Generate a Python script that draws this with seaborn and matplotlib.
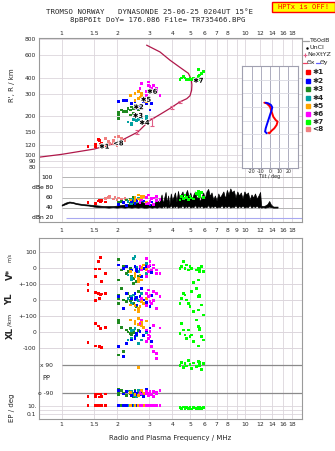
import numpy as np
import pandas as pd
import matplotlib
matplotlib.use("Agg")
import matplotlib.pyplot as plt
import seaborn as sns
from matplotlib.ticker import NullLocator
from matplotlib.patches import Rectangle
from matplotlib.lines import Line2D
import matplotlib.patheffects as pe

sns.set_theme(style="white")
plt.rcParams['font.family'] = ['DejaVu Sans']

# ------------------------------------------------------------------ data
freq_ticks = [1, 1.5, 2, 3, 4, 5, 6, 7, 8, 10, 12, 14, 16, 18]
freq_ticks_mid = [1, 1.5, 2, 3, 4, 5, 6, 7, 8, 9, 10, 12, 14, 16, 18]
height_ticks = [80, 90, 100, 120, 150, 200, 300, 400, 600, 800]
dbe_ticks = [100, 80, 60, 40, 20]
dbe_labels = ["100", "dBe 80", "60", "40", "dBn 20"]

# model profile trace (MHz, km)
trace_f = [0.755, 1.0, 1.5, 2.0, 2.6, 3.0, 3.43, 3.89, 4.41, 4.8, 5.0, 5.1, 5.12, 5.08, 4.9, 4.41, 3.89, 3.43, 2.9]
trace_h = [96, 101, 111, 124.5, 151, 185, 207, 231, 260, 275, 290, 320, 352, 390, 434, 483, 550, 638, 721]

# NeXtYZ markers
nx_f = [2.58, 3.1, 4.0, 4.4]
nx_h = [151, 181, 235, 260]
nx_err = [6, 14, 8, 6]

# echoes: frequency, virtual height, amplitude, V*, YL, XL, PP, EP
e1_f = [1.39, 1.53, 1.53, 1.58, 1.60, 1.62, 1.65, 1.74]
e1_h = [117, 121, 116, 132, 130, 121, 124, 118]
e1_amp = [50, 47, 49, 53, 55, 52, 54, 51]
e1_v = [-104, -6, -55, 43, -6, 66, -87, -34]
e1_yl = [58, 48, -2, 42, 10, 31, 38, 42]
e1_xl = [-68, 55, -89, 38, -94, 23, -98, 30]
e1_pp = [-112, -95, -112, -95, -114, -95, -112, -95]
e1_ep = [12, 11, 12, 11, 12, 11, 12, 11]

e2_f = [2.03, 2.17, 2.26, 2.41, 2.51, 2.56, 2.67, 2.73, 2.78, 2.91, 3.09, 3.03, 2.51, 2.56]
e2_h = [261, 266, 266, 253, 261, 245, 237, 284, 261, 253, 253, 224, 237, 231]
e2_amp = [46, 50, 44, 52, 48, 55, 50, 58, 53, 47, 51, 45, 49, 54]
e2_v = [19, -2, 9, -13, 9, -23, -2, -55, -2, 9, -30, 15, -40, -10]
e2_yl = [21, -52, 42, 10, 42, -31, 21, 73, 0, -15, 30, -40, 5, 15]
e2_xl = [-94, -157, -72, -51, -30, -9, 2, 45, -20, 10, -60, 25, -40, -15]
e2_pp = [-70, -95, -80, -105, -75, -90, -100, -85, -110, -65, -95, -80, -90, -100]
e2_ep = [11, 12, 11, 12, 11, 12, 11, 12, 11, 12, 11, 12, 11, 12]

e3_f = [2.03, 2.03, 2.03, 2.12, 2.17, 2.26, 2.30, 2.36, 2.41, 2.46, 2.51, 2.56, 2.61, 2.46, 2.36]
e3_h = [205, 193, 216, 224, 219, 219, 231, 224, 237, 231, 245, 231, 224, 211, 205]
e3_amp = [47, 50, 45, 52, 49, 55, 51, 57, 53, 60, 56, 54, 58, 50, 48]
e3_v = [55, 19, -77, -13, 13, -34, -23, -2, -55, -66, -45, -87, -51, -98, -13]
e3_yl = [31, 10, -21, 73, 0, -10, 42, 21, 0, -21, 10, -42, 52, 31, -5]
e3_xl = [77, 60, -147, 30, -126, 13, 0, -9, -19, 5, -30, -13, 8, -3, 20]
e3_pp = [-65, -80, -100, -70, -90, -105, -75, -95, -85, -110, -70, -100, -80, -90, -75]
e3_ep = [11, 12, 11, 12, 11, 12, 11, 12, 11, 12, 11, 12, 11, 12, 11]

e4_f = [2.30, 2.41, 2.46, 2.51, 2.61, 2.73, 2.91, 2.41, 2.56, 2.91]
e4_h = [181, 171, 190, 193, 190, 197, 199, 177, 185, 193]
e4_amp = [52, 48, 55, 50, 58, 53, 49, 56, 51, 47]
e4_v = [-45, -77, 62, 72, -23, -10, 30, -60, 5, -35]
e4_yl = [10, -21, 31, 15, -5, 40, -30, 20, 0, -15]
e4_xl = [-51, -40, 13, 23, -72, -51, -5, 8, -20, 2]
e4_pp = [-75, -95, -105, -85, -70, -100, -90, -80, -110, -88]
e4_ep = [11, 12, 11, 12, 11, 12, 11, 12, 11, 12]

e5_f = [2.36, 2.51, 2.61, 2.67, 2.73, 2.78, 2.91, 2.61, 2.73, 2.51]
e5_h = [293, 302, 312, 284, 293, 276, 261, 276, 302, 267]
e5_amp = [55, 60, 65, 52, 58, 62, 50, 57, 63, 54]
e5_v = [-23, -55, -87, -45, -77, 19, -10, -65, 5, -35]
e5_yl = [-31, -62, -73, -42, 0, -20, 10, -55, -10, -35]
e5_xl = [77, 55, 87, 45, 60, 30, 70, 50, 40, 65]
e5_pp = [-85, -100, 75, -95, -75, -90, -80, -105, -70, -95]
e5_ep = [12, 11, 12, 11, 12, 11, 12, 11, 12, 11]

e6_f = [2.67, 2.73, 2.91, 2.97, 2.97, 3.03, 3.09, 3.15, 3.29, 3.29, 3.43, 2.91, 3.03, 3.15]
e6_h = [331, 362, 312, 372, 351, 341, 331, 320, 331, 312, 293, 293, 320, 351]
e6_amp = [50, 55, 60, 48, 65, 52, 58, 46, 62, 54, 56, 47, 53, 59]
e6_v = [9, -13, 62, 9, -23, 19, -13, 19, -13, -34, -34, -55, 40, 0]
e6_yl = [0, 10, 42, 63, 21, -10, -21, 52, 42, -52, 20, -35, 30, -5]
e6_xl = [55, 77, 13, -19, -40, -30, -94, -126, -136, -168, 25, -60, 5, 40]
e6_pp = [-85, -95, -75, -105, -90, -80, -100, -110, -85, -95, -70, -90, -100, -80]
e6_ep = [12, 11, 12, 11, 12, 11, 12, 11, 12, 11, 12, 11, 12, 11]

e7_f = [4.41, 4.51, 4.60, 4.70, 4.80, 4.90, 5.00, 5.11, 5.21, 5.44, 5.54, 5.66, 5.78, 5.90, 5.54, 5.66]
e7_h = [389, 399, 409, 399, 389, 389, 399, 389, 399, 381, 409, 421, 434, 448, 462, 389]
e7_amp = [55, 62, 58, 65, 60, 56, 63, 59, 57, 68, 72, 65, 70, 60, 66, 62]
e7_v = [-2, 9, 40, -2, 19, -13, 9, -2, -94, -13, -2, -23, 9, -23, -77, -2]
e7_yl = [-21, 10, 42, 31, 0, -21, -42, 52, -73, 73, 21, 31, -31, -94, -62, 21]
e7_xl = [-9, 55, 13, -19, -40, 13, -30, -19, -62, 77, 34, 23, -30, -51, -89, 13]
e7_pp = [90, 110, 75, 100, 85, 120, 95, 70, 105, 80, 115, 90, 65, 100, 85, 110]
e7_ep = [5, 3, 6, 2.5, 4, 3, 5, 2, 4, 3, 6, 4, 3, 5, 2.5, 4]

e8_f = [1.74, 1.79, 1.83, 1.91, 1.95, 2.03, 2.12, 2.21, 2.00, 1.91]
e8_h = [134, 128, 123, 130, 138, 140, 134, 130, 119, 123]
e8_amp = [58, 60, 62, 57, 61, 59, 56, 58, 55, 57]

# echo labels in ionogram (text, f, h)
lab_txt = ["\u27311", "<8", "\u27313", "\u27314", "\u27312", "\u27315", "\u27316", "\u27317"]
lab_f = [1.60, 1.91, 2.44, 2.65, 2.46, 2.70, 2.92, 5.21]
lab_h = [116, 123, 202, 178, 236, 270, 312, 380]

# noise (T60dB) envelope in dBe panel
nz_f = [1.00, 1.05, 1.10, 1.15, 1.20, 1.30, 1.40, 1.50, 1.60, 1.70, 1.80, 1.90, 2.00, 2.10, 2.20, 2.30,
        2.40, 2.50, 2.60, 2.70, 2.80, 2.90, 3.00, 3.10, 3.20, 3.30, 3.40,
        3.50, 3.56, 3.62, 3.68, 3.74, 3.80, 3.86, 3.93, 4.00, 4.07, 4.14, 4.22, 4.30, 4.38, 4.46, 4.55,
        4.64, 4.73, 4.82, 4.92, 5.02, 5.12, 5.22, 5.33, 5.44, 5.55, 5.66, 5.78, 5.90, 6.02, 6.15, 6.28,
        6.41, 6.55, 6.69, 6.83, 6.98, 7.13, 7.28, 7.44, 7.60, 7.77, 7.94, 8.11, 8.29, 8.47, 8.66, 8.85,
        9.05, 9.25, 9.46, 9.67, 9.89, 10.11, 10.34, 10.57, 10.81, 11.05, 11.30, 11.55, 11.81, 12.05,
        12.2, 12.5, 12.8, 13.2, 13.5, 13.8, 14.2, 14.6, 15.0]
nz_lo = [44, 47, 50, 49, 47, 45, 44, 42, 41, 41, 40, 41, 40, 41, 40, 41,
         40, 41, 40, 41, 40, 40, 41, 40, 41, 40, 42,
         40, 43, 41, 44, 40, 42, 41, 45, 40, 43, 41, 44, 40, 42, 41, 45,
         40, 43, 41, 44, 40, 42, 41, 45, 40, 43, 41, 44, 40, 42, 41, 45,
         40, 43, 41, 44, 40, 42, 41, 45, 40, 43, 41, 44, 40, 42, 41, 45,
         40, 43, 41, 44, 40, 42, 41, 45, 40, 43, 41, 44, 40, 42,
         40, 41, 40, 41, 42, 41, 40, 40, 40]
nz_hi = [46, 50, 52, 51, 49, 47, 46, 45, 44, 43, 43, 43, 44, 45, 46, 47,
         49, 48, 50, 52, 50, 48, 46, 47, 49, 55, 50,
         66, 48, 60, 71, 50, 64, 46, 68, 55, 62, 70, 52, 73, 58, 66, 72,
         54, 68, 75, 60, 70, 56, 66, 72, 58, 64, 52, 62, 70, 58, 72, 77,
         63, 70, 56, 64, 54, 68, 60, 66, 72, 58, 75, 66, 78, 70, 74, 60,
         72, 64, 70, 58, 72, 66, 70, 56, 66, 60, 68, 58, 64, 71,
         44, 43, 44, 47, 53, 46, 42, 42, 42]

# tilt inset (deg vs relative height)
tx_x = [-6.2, -3.6, -1.8, 0, 1.8, 3.6, 6.2, 8.3, 7.2, 4.7, 1.8, -0.7, -1.8]
tx_y = [4.31, 4.26, 4.14, 4.02, 3.65, 3.28, 3.04, 2.92, 2.67, 2.43, 2.26, 2.07, 2.11]
ty_x = [-4.7, -1.8, 1.1, 2.5, 1.8, 0, -1.8, -3.6, -4.7, -5.4, -3.6]
ty_y = [4.31, 4.26, 4.14, 3.97, 3.77, 3.41, 3.04, 2.67, 2.43, 2.19, 2.07]
tilt_ticks = [-20, -10, 0, 10, 20]

# ------------------------------------------------------------------ frames
palette = {'1': '#ff0000', '2': '#0000ff', '3': '#208a20', '4': '#00a0a0',
           '5': '#ffa500', '6': '#ff00ff', '7': '#00ff00', '8': '#f08080'}
GRID = '#dcd6dc'
SP = '#9a9a9a'
XLIM = (0.755, 20.3)

W, H = 335, 451
fig = plt.figure(figsize=(W / 100, H / 100), dpi=100)
fig.patch.set_facecolor('white')


def fx(x):
    return x / W


def fy(y):
    return 1 - y / H


L, R = 39.3, 301.7
ax_ion = fig.add_axes([fx(L), fy(172), (R - L) / W, (172 - 38) / H])
ax_dbe = fig.add_axes([fx(L), fy(222.3), (R - L) / W, (222.3 - 172) / H])
ax_low = fig.add_axes([fx(L), fy(419), (R - L) / W, (419 - 238.3) / H])
ax_in = fig.add_axes([fx(241.7), fy(168.3), (298.3 - 241.7) / W, (168.3 - 66) / H])

for ax in (ax_ion, ax_dbe, ax_low):
    ax.set_xscale('log')
    ax.set_xlim(XLIM)
    ax.set_facecolor('white')
    for s in ax.spines.values():
        s.set_color(SP)
        s.set_linewidth(0.8)
    for f in freq_ticks_mid:
        ax.axvline(f, color=GRID, lw=0.6, zorder=0)

ax_ion.spines['bottom'].set_visible(False)
ax_dbe.spines['top'].set_visible(False)


def fmt(v):
    return ('%g' % v)


# ------------------------------------------------------------------ ionogram
ax_ion.set_yscale('log')
ax_ion.set_ylim(73.5, 820)
for hh in height_ticks:
    ax_ion.axhline(hh, color=GRID, lw=0.6, zorder=0)
ax_ion.set_yticks(height_ticks)
ax_ion.set_yticklabels([fmt(v) for v in height_ticks])
ax_ion.yaxis.set_minor_locator(NullLocator())
ax_ion.set_xticks(freq_ticks)
ax_ion.set_xticklabels([fmt(v) for v in freq_ticks])
ax_ion.xaxis.set_minor_locator(NullLocator())
ax_ion.xaxis.tick_top()
ax_ion.tick_params(axis='x', length=0, labelsize=4.3, pad=1.6)
ax_ion.tick_params(axis='y', length=0, labelsize=4.3, pad=2.3)

sns.lineplot(x=trace_f, y=trace_h, sort=False, estimator=None, color='#b0184a', lw=0.9, ax=ax_ion)
ax_ion.errorbar(nx_f, nx_h, yerr=nx_err, fmt='none', ecolor='#e06088', elinewidth=0.8, capsize=1.3, capthick=0.8)

echo_sets = [('8', e8_f, e8_h, e8_amp), ('1', e1_f, e1_h, e1_amp), ('3', e3_f, e3_h, e3_amp),
             ('4', e4_f, e4_h, e4_amp), ('2', e2_f, e2_h, e2_amp), ('5', e5_f, e5_h, e5_amp),
             ('6', e6_f, e6_h, e6_amp), ('7', e7_f, e7_h, e7_amp)]
top_df = pd.concat([pd.DataFrame({'echo': k, 'f': f, 'h': h, 'amp': a}) for k, f, h, a in echo_sets],
                   ignore_index=True)
sns.scatterplot(data=top_df, x='f', y='h', hue='echo', palette=palette, marker='s', s=4,
                linewidth=0, legend=False, ax=ax_ion, zorder=3)
for t, f, h in zip(lab_txt, lab_f, lab_h):
    ax_ion.text(f, h, t, fontsize=4.8, fontweight='bold', color='black', ha='left', va='center',
                zorder=5, path_effects=[pe.withStroke(linewidth=1.1, foreground='white')])
ax_ion.set_xlabel('')
ax_ion.set_ylabel('')

# ------------------------------------------------------------------ dBe panel
ax_dbe.set_ylim(10.9, 110.5)
ax_dbe.hlines([100, 80, 60, 40], 1.0, XLIM[1], color='#b4b4b4', lw=0.7, zorder=0)
ax_dbe.hlines([20], 1.05, XLIM[1], color='#a8a8f0', lw=0.8, zorder=0)
ax_dbe.fill_between(nz_f, nz_lo, nz_hi, color='black', lw=0.5, edgecolor='black', zorder=2)
sns.scatterplot(data=top_df, x='f', y='amp', hue='echo', palette=palette, marker='s', s=4,
                linewidth=0, legend=False, ax=ax_dbe, zorder=3)
ax_dbe.set_yticks([])
for v, lab in zip(dbe_ticks, dbe_labels):
    ax_dbe.text(0.052, v, lab, transform=ax_dbe.get_yaxis_transform(), ha='right', va='center',
                fontsize=4.3, color='black')
ax_dbe.set_xticks(freq_ticks_mid)
ax_dbe.set_xticklabels([fmt(v) for v in freq_ticks_mid])
ax_dbe.xaxis.set_minor_locator(NullLocator())
ax_dbe.tick_params(axis='x', length=0, labelsize=4.3, pad=4.2)
ax_dbe.set_xlabel('')
ax_dbe.set_ylabel('')

# ------------------------------------------------------------------ lower panel


def vrow(v):
    return 29.7 - 0.157 * np.asarray(v, float)


def ylrow(v):
    return 61.7 - 0.16 * np.asarray(v, float)


def xlrow(v):
    return 93.7 - 0.157 * np.asarray(v, float)


def pprow(v):
    return 141.0 - 0.1556 * np.asarray(v, float)


def eprow(v):
    return 167.7 + (1 - np.log10(np.asarray(v, float))) * 4.15


low_sets = [('1', e1_f, e1_v, e1_yl, e1_xl, e1_pp, e1_ep), ('3', e3_f, e3_v, e3_yl, e3_xl, e3_pp, e3_ep),
            ('4', e4_f, e4_v, e4_yl, e4_xl, e4_pp, e4_ep), ('2', e2_f, e2_v, e2_yl, e2_xl, e2_pp, e2_ep),
            ('5', e5_f, e5_v, e5_yl, e5_xl, e5_pp, e5_ep), ('6', e6_f, e6_v, e6_yl, e6_xl, e6_pp, e6_ep),
            ('7', e7_f, e7_v, e7_yl, e7_xl, e7_pp, e7_ep)]
frames = []
for k, f, v, yl, xl, pp, ep in low_sets:
    for conv, vals in ((vrow, v), (ylrow, yl), (xlrow, xl), (pprow, pp), (eprow, ep)):
        frames.append(pd.DataFrame({'echo': k, 'f': f, 'row': conv(vals)}))
low_df = pd.concat(frames, ignore_index=True)

ax_low.set_ylim(180.7, 0)
lt_pos = [float(vrow(100)), float(vrow(0)), float(ylrow(100)), float(ylrow(0)), float(xlrow(100)),
          float(xlrow(0)), float(xlrow(-100)), float(eprow(10)), float(eprow(0.1))]
lt_lab = ["100", "0", "+-100", "0", "+-100", "0", "-100", "10.", "0.1"]
ax_low.hlines(lt_pos[:7], XLIM[0], XLIM[1], color=GRID, lw=0.7, zorder=0)
ax_low.hlines([float(eprow(10)), float(eprow(1)), float(eprow(0.1))], XLIM[0], XLIM[1], color=GRID, lw=0.6, zorder=0)
ax_low.hlines([float(pprow(90)), float(pprow(-90))], 1.0, XLIM[1], color='#8a8a8a', lw=0.9, zorder=1)
ax_low.set_yticks(lt_pos)
ax_low.set_yticklabels(lt_lab)
ax_low.tick_params(axis='y', length=0, labelsize=4.3, pad=2.0)
ax_low.text(0.052, float(pprow(90)), "x 90", transform=ax_low.get_yaxis_transform(), ha='right', va='center', fontsize=4.3)
ax_low.text(0.052, float(pprow(-90)), "o -90", transform=ax_low.get_yaxis_transform(), ha='right', va='center', fontsize=4.3)
ax_low.text(0.01, float(pprow(0)) - 1.5, "PP", transform=ax_low.get_yaxis_transform(), ha='left', va='center', fontsize=4.8)
sns.scatterplot(data=low_df, x='f', y='row', hue='echo', palette=palette, marker='s', s=4,
                linewidth=0, legend=False, ax=ax_low, zorder=3)
ax_low.set_xticks(freq_ticks)
ax_low.set_xticklabels([fmt(v) for v in freq_ticks])
ax_low.xaxis.set_minor_locator(NullLocator())
ax_low.tick_params(axis='x', length=0, labelsize=4.3, pad=2.0)
ax_low.set_xlabel('')
ax_low.set_ylabel('')

# ------------------------------------------------------------------ tilt inset
ax_in.set_facecolor('white')
ax_in.set_xlim(-31, 31)
ax_in.set_ylim(-0.5, 7.0)
for s in ax_in.spines.values():
    s.set_color('#a0a0b0')
    s.set_linewidth(0.8)
for t in tilt_ticks:
    ax_in.axvline(t, color='#a0a0b4', lw=0.6, zorder=0)
for yy in range(7):
    ax_in.axhline(yy, color='#d8d8e0', lw=0.6, zorder=0)
sns.lineplot(x=tx_x, y=tx_y, sort=False, estimator=None, color='#ff0000', lw=1.4, ax=ax_in)
sns.lineplot(x=ty_x, y=ty_y, sort=False, estimator=None, color='#0000ff', lw=1.4, ax=ax_in)
ax_in.set_xticks(tilt_ticks)
ax_in.set_xticklabels([str(t) for t in tilt_ticks])
ax_in.set_yticks([])
ax_in.tick_params(axis='x', length=0, labelsize=3.4, pad=0.6)
ax_in.set_xlabel('Tilt / deg', fontsize=3.4, labelpad=0.2)
ax_in.set_ylabel('')

# ------------------------------------------------------------------ figure texts
mono = 'DejaVu Sans Mono'
fig.text(fx(150), fy(11.6), "TROMSO NORWAY   DYNASONDE 25-06-25 0204UT 15\u00b0E", ha='center', va='center',
         fontsize=5.3, family=mono)
fig.text(fx(157.5), fy(20.3), "8pBP6It DoY= 176.086 File= TR735466.BPG", ha='center', va='center',
         fontsize=5.3, family=mono)
fig.patches.append(Rectangle((fx(271.7), fy(12.3)), (334.5 - 271.7) / W, 10.6 / H, transform=fig.transFigure,
                             facecolor='#ffff00', edgecolor='#ff0000', lw=1.0))
fig.text(fx(303.0), fy(7.0), "HPTx is OFF!", ha='center', va='center', fontsize=5.1, family=mono, color='#ff0000')

fig.text(fx(12), fy(85), "R', R / km", rotation=90, ha='center', va='center', fontsize=5)
fig.text(fx(10), fy(274), "V*", rotation=90, ha='center', va='center', fontsize=6.2, fontweight='bold')
fig.text(fx(10), fy(258), "m/s", rotation=90, ha='center', va='center', fontsize=3.6)
fig.text(fx(10), fy(299), "YL", rotation=90, ha='center', va='center', fontsize=6.2, fontweight='bold')
fig.text(fx(10), fy(320), "/km", rotation=90, ha='center', va='center', fontsize=4.6)
fig.text(fx(10), fy(333), "XL", rotation=90, ha='center', va='center', fontsize=6.2, fontweight='bold')
fig.text(fx(12), fy(408), "EP / deg", rotation=90, ha='center', va='center', fontsize=5)
fig.text(fx(170), fy(438.3), "Radio and Plasma Frequency / MHz", ha='center', va='center', fontsize=5)

# legend column
fig.lines.append(Line2D([fx(303), fx(308.5)], [fy(41), fy(41)], color='#a0a0a0', lw=0.9, transform=fig.transFigure))
fig.text(fx(309.5), fy(41), "T60dB", ha='left', va='center', fontsize=4.6)
fig.lines.append(Line2D([fx(306.7)], [fy(47.5)], color='black', marker='.', ms=1.5, lw=0, transform=fig.transFigure))
fig.text(fx(310), fy(47.5), "UnCl", ha='left', va='center', fontsize=4.6)
fig.lines.append(Line2D([fx(305)], [fy(55)], color='#e06088', marker='+', ms=3.5, mew=0.8, lw=0, transform=fig.transFigure))
fig.text(fx(307.7), fy(55), "NeXtYZ", ha='left', va='center', fontsize=4.6)
fig.lines.append(Line2D([fx(303), fx(306.7)], [fy(62.7), fy(62.7)], color='#f04060', lw=0.9, transform=fig.transFigure))
fig.text(fx(306.9), fy(62.7), "\u0398x", ha='left', va='center', fontsize=4.4)
fig.lines.append(Line2D([fx(315.8), fx(319.5)], [fy(62.7), fy(62.7)], color='#6060ff', lw=0.9, transform=fig.transFigure))
fig.text(fx(319.7), fy(62.7), "\u0398y", ha='left', va='center', fontsize=4.4)

leg_keys = ['1', '2', '3', '4', '5', '6', '7', '8']
leg_y = [72.3, 80.7, 89.3, 98.3, 106, 114, 121.7, 129.3]
leg_txt = ["\u27311", "\u27312", "\u27313", "\u27314", "\u27315", "\u27316", "\u27317", "<8"]
for k, yy, t in zip(leg_keys, leg_y, leg_txt):
    fig.lines.append(Line2D([fx(308.3)], [fy(yy)], color=palette[k], marker='s', ms=2.2, lw=0,
                            transform=fig.transFigure))
    fig.text(fx(312.5), fy(yy), t, ha='left', va='center', fontsize=5.2, fontweight='bold')

fig.savefig('out.png', dpi=100, facecolor='white')
